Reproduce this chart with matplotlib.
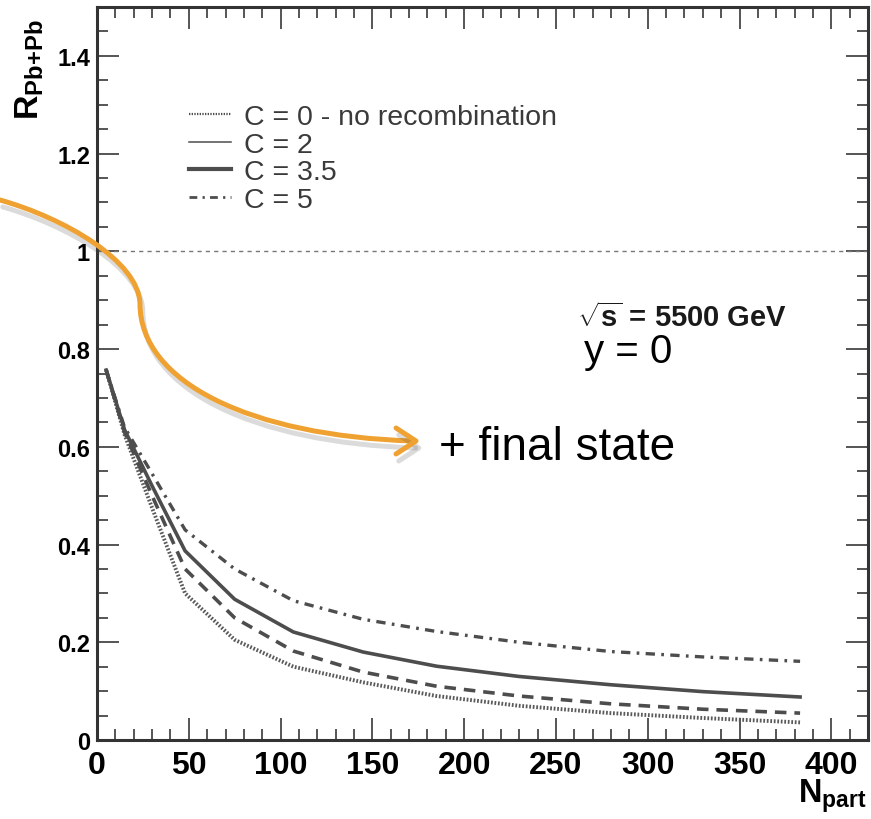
import matplotlib.pyplot as plt
import matplotlib.patheffects as pe
from matplotlib.path import Path
from matplotlib.patches import PathPatch
from matplotlib.lines import Line2D
from matplotlib.ticker import MultipleLocator, FuncFormatter

plt.rcParams['font.family'] = ['Liberation Sans', 'DejaVu Sans']
plt.rcParams['mathtext.fontset'] = 'custom'
plt.rcParams['mathtext.rm'] = 'Liberation Sans'
plt.rcParams['mathtext.bf'] = 'Liberation Sans:bold'
plt.rcParams['mathtext.it'] = 'Liberation Sans:italic'

# R_PbPb vs N_part for different recombination strengths
npart = [5, 15, 30, 48, 75, 107, 145, 185, 230, 280, 330, 383]
r_c0 = [0.757, 0.625, 0.475, 0.300, 0.205, 0.150, 0.118, 0.090, 0.070, 0.055, 0.045, 0.036]
r_c2 = [0.757, 0.630, 0.500, 0.350, 0.250, 0.182, 0.139, 0.110, 0.090, 0.074, 0.063, 0.055]
r_c35 = [0.757, 0.635, 0.520, 0.387, 0.288, 0.221, 0.180, 0.151, 0.130, 0.113, 0.099, 0.088]
r_c5 = [0.757, 0.640, 0.545, 0.430, 0.350, 0.285, 0.247, 0.222, 0.200, 0.181, 0.170, 0.161]
labels = ['C = 0 - no recombination', 'C = 2', 'C = 3.5', 'C = 5']

W, H = 871, 820
col = '#4d4d4d'

fig = plt.figure(figsize=(W / 100, H / 100), dpi=100)
ax = fig.add_axes([97 / W, 1 - 741 / H, 771 / W, 733 / H])

ax.axhline(1.0, color='#777777', lw=1.0, ls=(0, (3, 3)))
ax.plot(npart, r_c0, color='#5a5a5a', lw=2.8, ls=(0, (0.45, 0.45)))
ax.plot(npart, r_c2, color=col, lw=2.6, ls=(0, (3.2, 2.2)))
ax.plot(npart, r_c35, color=col, lw=2.6, ls='-')
ax.plot(npart, r_c5, color=col, lw=2.4, ls=(0, (2.8, 1.9, 0.8, 1.9)))

ax.set_xlim(0, 420)
ax.set_ylim(0, 1.5)
ax.xaxis.set_major_locator(MultipleLocator(50))
ax.xaxis.set_minor_locator(MultipleLocator(10))
ax.yaxis.set_major_locator(MultipleLocator(0.2))
ax.yaxis.set_minor_locator(MultipleLocator(0.05))
ax.yaxis.set_major_formatter(FuncFormatter(lambda v, p: '%g' % round(v, 2)))

ax.tick_params(which='both', direction='in', top=True, right=True,
               color='#555555', width=1.4)
ax.tick_params(which='major', length=16)
ax.tick_params(which='minor', length=8)
ax.tick_params(axis='x', which='major', labelsize=23, pad=7)
ax.tick_params(axis='y', which='major', labelsize=17, pad=5)
for t in ax.get_xticklabels() + ax.get_yticklabels():
    t.set_fontweight('bold')
for s in ax.spines.values():
    s.set_linewidth(2.2)
    s.set_color('#333333')

handles = [
    Line2D([], [], color=col, lw=1.6, ls=(0, (0.6, 0.6))),
    Line2D([], [], color=col, lw=1.1, ls='-'),
    Line2D([], [], color=col, lw=3.0, ls='-'),
    Line2D([], [], color=col, lw=2.0, ls=(0, (2.8, 1.9, 0.8, 1.9))),
]
leg = ax.legend(handles, labels, loc='upper left',
                bbox_to_anchor=((189 - 97) / 771, (741 - 105) / 733),
                frameon=False, fontsize=20.5, handlelength=1.47,
                handletextpad=0.45, labelspacing=0.06,
                borderpad=0, borderaxespad=0)
for t in leg.get_texts():
    t.set_color('#3a3a3a')

# axis titles, ROOT style
fig.text(30 / W, 1 - 19 / H, r'$\mathbf{R}_{\mathbf{Pb{+}Pb}}$', rotation=90,
         ha='center', va='top', fontsize=24.5)
fig.text(867 / W, 1 - 803 / H, r'$\mathbf{N}_{\mathbf{part}}$',
         ha='right', va='baseline', fontsize=23.5)

fig.text(577 / W, 1 - 327 / H, r'$\mathbf{\sqrt{s}}$ = 5500 GeV',
         fontsize=21, fontweight='bold', color='#1a1a1a', va='baseline')
fig.text(584 / W, 1 - 363 / H, 'y = 0', fontsize=29, va='baseline')
fig.text(439 / W, 1 - 460 / H, '+ final state', fontsize=33, va='baseline')

# orange arrow drawn over the figure
def fp(x, y):
    return (x / W, 1 - y / H)

verts = [fp(0, 201), fp(64, 219), fp(139, 262), fp(140, 305),
         fp(140, 383), fp(250, 437), fp(413, 442)]
codes = [Path.MOVETO, Path.CURVE4, Path.CURVE4, Path.CURVE4,
         Path.CURVE4, Path.CURVE4, Path.CURVE4]
orange = '#efa232'
shadow = [pe.SimpleLineShadow(offset=(2, -5), shadow_color='0.3', alpha=0.2),
          pe.Normal()]
curve = PathPatch(Path(verts, codes), transform=fig.transFigure,
                  facecolor='none', edgecolor=orange, lw=3.6,
                  capstyle='round', path_effects=shadow)
fig.add_artist(curve)
head = PathPatch(Path([fp(396, 429), fp(416, 442), fp(396, 455)]),
                 transform=fig.transFigure, facecolor='none',
                 edgecolor=orange, lw=3.6, capstyle='round',
                 joinstyle='round', path_effects=shadow)
fig.add_artist(head)

fig.savefig('out.png', dpi=100)
